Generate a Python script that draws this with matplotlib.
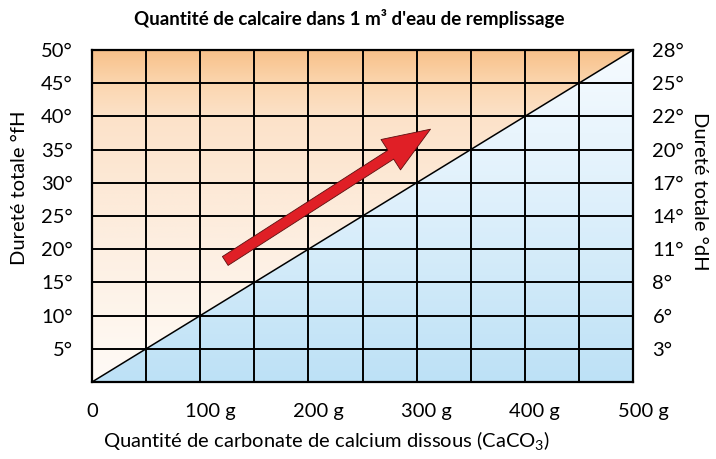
import numpy as np
import matplotlib
matplotlib.use("Agg")
import matplotlib.pyplot as plt
from matplotlib.patches import Polygon, FancyArrowPatch
from matplotlib.transforms import ScaledTranslation

plt.rcParams['font.family'] = ['Lato', 'DejaVu Sans']
plt.rcParams['mathtext.fontset'] = 'custom'
plt.rcParams['mathtext.rm'] = 'Lato'

# data
x_max = 500          # g CaCO3
y_max = 50           # °fH
x_ticks = [0, 100, 200, 300, 400, 500]
x_labels = ['0', '100 g', '200 g', '300 g', '400 g', '500 g']
y_ticks = [5, 10, 15, 20, 25, 30, 35, 40, 45, 50]
y_labels = ['5°', '10°', '15°', '20°', '25°', '30°', '35°', '40°', '45°', '50°']
dh_labels = ['3°', '6°', '8°', '11°', '14°', '17°', '20°', '22°', '25°', '28°']
line_x = [0, 500]
line_y = [0, 50]
arrow_start = (121, 18)
arrow_end = (315, 38.3)

fs = 14.5

fig = plt.figure(figsize=(7.16, 4.59), dpi=100)
ax = fig.add_axes([92/716, 77/459, 541/716, 332/459])
ax.set_xlim(0, x_max)
ax.set_ylim(0, y_max)

# gradients
n = 400
yy = np.linspace(0, y_max, n)
stops = [0, 10, 20, 30, 40, 45, 50]
o_r = [255, 254, 253, 253, 252, 251, 248]
o_g = [251, 245, 239, 233, 226, 214, 193]
o_b = [247, 236, 226, 214, 201, 175, 138]
orange = np.stack([np.interp(yy, stops, o_r), np.interp(yy, stops, o_g),
                   np.interp(yy, stops, o_b)], axis=1) / 255
orange_img = np.repeat(orange[:, None, :], 2, axis=1)
b_stops = [0, 25, 50]
blue = np.stack([np.interp(yy, b_stops, [189, 220, 246]),
                 np.interp(yy, b_stops, [225, 239, 251]),
                 np.interp(yy, b_stops, [246, 251, 255])], axis=1) / 255
blue_img = np.repeat(blue[:, None, :], 2, axis=1)

up = Polygon([(0, 0), (0, y_max), (x_max, y_max)], closed=True, facecolor='none', edgecolor='none')
lo = Polygon([(0, 0), (x_max, 0), (x_max, y_max)], closed=True, facecolor='none', edgecolor='none')
ax.add_patch(up)
ax.add_patch(lo)
im1 = ax.imshow(orange_img, origin='lower', extent=[0, x_max, 0, y_max], aspect='auto', zorder=0)
im1.set_clip_path(up)
im2 = ax.imshow(blue_img, origin='lower', extent=[0, x_max, 0, y_max], aspect='auto', zorder=0)
im2.set_clip_path(lo)

# grid
for gx in np.arange(50, x_max, 50):
    ax.axvline(gx, color='black', lw=1.4, zorder=2)
for gy in y_ticks[:-1]:
    ax.axhline(gy, color='black', lw=1.4, zorder=2)
ax.plot(line_x, line_y, color='black', lw=1.1, zorder=3)

arr = FancyArrowPatch(arrow_start, arrow_end,
                      arrowstyle='simple,head_length=1.7,head_width=1.3,tail_width=0.38',
                      mutation_scale=20, facecolor='#e01f26', edgecolor='#5a1010',
                      lw=0.6, zorder=4)
ax.add_patch(arr)

for s in ax.spines.values():
    s.set_linewidth(1.6)
    s.set_zorder(5)

ax.set_xticks(x_ticks)
ax.set_xticklabels(x_labels, fontsize=fs)
ax.set_yticks(y_ticks)
ax.set_yticklabels(y_labels, fontsize=fs)
ax.tick_params(length=0)
ax.tick_params(axis='x', pad=15)
ax.tick_params(axis='y', pad=14)
off = ScaledTranslation(10/100, 0, fig.dpi_scale_trans)
for lab in ax.get_xticklabels()[1:]:
    lab.set_transform(lab.get_transform() + off)

ax2 = ax.twinx()
ax2.set_ylim(0, y_max)
ax2.set_yticks(y_ticks)
ax2.set_yticklabels(dh_labels, fontsize=fs)
ax2.tick_params(length=0, pad=14)
for s in ax2.spines.values():
    s.set_visible(False)

fig.text(349/716, 1 - 19/459, "Quantité de calcaire dans 1 m³ d'eau de remplissage",
         ha='center', va='center', fontsize=13.5, fontweight='bold')
fig.text(326/716, 1 - 441/459, r"Quantité de carbonate de calcium dissous (CaCO$_3$)",
         ha='center', va='center', fontsize=fs)
fig.text(20/716, 1 - 188/459, "Dureté totale °fH", rotation=90,
         ha='center', va='center', fontsize=fs)
fig.text(699/716, 1 - 191/459, "Dureté totale °dH", rotation=-90,
         ha='center', va='center', fontsize=fs)

fig.savefig('out.png', dpi=100)
